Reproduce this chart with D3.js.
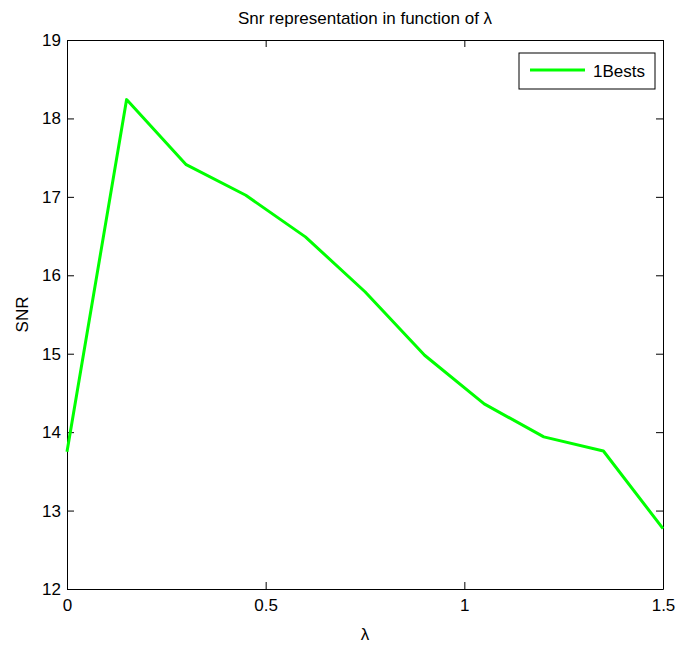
<!DOCTYPE html>
<html>
<head>
<meta charset="utf-8">
<script src="https://cdn.jsdelivr.net/npm/d3@7"></script>
<style>
  body { margin: 0; background: #fff; }
  text { font-family: "Liberation Sans", Arial, sans-serif; }
</style>
</head>
<body>
<div id="chart"></div>
<script>
// data
const lambdas = [0, 0.15, 0.3, 0.45, 0.6, 0.75, 0.9, 1.05, 1.2, 1.35, 1.5];
const snr = [13.75, 18.24, 17.41, 17.02, 16.49, 15.79, 14.98, 14.36, 13.94, 13.76, 12.77];
const xTicks = [0, 0.5, 1, 1.5];
const yTicks = [12, 13, 14, 15, 16, 17, 18, 19];
const seriesName = '1Bests';

const W = 679, H = 653;
const margin = { top: 40, right: 16, bottom: 64, left: 67 };
const w = W - margin.left - margin.right,
  h = H - margin.top - margin.bottom;

let svg = d3.select('#chart').append('svg').attr('width', W).attr('height', H);
let g = svg.append('g').attr('transform', `translate(${margin.left},${margin.top})`);

let x = d3.scaleLinear().domain([0, 1.5]).range([0, w]);
let y = d3.scaleLinear().domain([12, 19]).range([h, 0]);

const fs = 17, tk = 7;

// axes box with inward ticks on all sides
let axB = g.append('g').attr('transform', `translate(0,${h})`)
  .call(d3.axisBottom(x).tickValues(xTicks).tickSizeInner(-tk).tickSizeOuter(0).tickPadding(10).tickFormat(d3.format('')));
let axT = g.append('g')
  .call(d3.axisTop(x).tickValues(xTicks).tickSizeInner(-tk).tickSizeOuter(0).tickFormat(''));
let axL = g.append('g')
  .call(d3.axisLeft(y).tickValues(yTicks).tickSizeInner(-tk).tickSizeOuter(0).tickPadding(6).tickFormat(d3.format('d')));
let axR = g.append('g').attr('transform', `translate(${w},0)`)
  .call(d3.axisRight(y).tickValues(yTicks).tickSizeInner(-tk).tickSizeOuter(0).tickFormat(''));

[axB, axT, axL, axR].forEach(a => {
  a.select('.domain').attr('stroke', '#000');
  a.selectAll('.tick line').attr('stroke', '#000');
  a.selectAll('text').attr('font-size', fs).attr('fill', '#000')
    .style('font-family', '"Liberation Sans", Arial, sans-serif');
});

// the line
let line = d3.line().x((d, i) => x(lambdas[i])).y(d => y(d));
g.append('path')
  .datum(snr)
  .attr('d', line)
  .attr('fill', 'none')
  .attr('stroke', '#00ff00')
  .attr('stroke-width', 3)
  .attr('stroke-linejoin', 'round');

// title and labels
svg.append('text')
  .attr('x', margin.left + w / 2).attr('y', 24)
  .attr('text-anchor', 'middle').attr('font-size', fs)
  .text('Snr representation in function of λ');

svg.append('text')
  .attr('x', margin.left + w / 2).attr('y', 640)
  .attr('text-anchor', 'middle').attr('font-size', fs)
  .text('λ');

svg.append('text')
  .attr('transform', `translate(28,${margin.top + h / 2}) rotate(-90)`)
  .attr('text-anchor', 'middle').attr('font-size', fs)
  .text('SNR');

// legend
let lg = svg.append('g').attr('transform', 'translate(519,53)');
lg.append('rect').attr('width', 136).attr('height', 36)
  .attr('fill', '#fff').attr('stroke', '#000');
lg.append('line').attr('x1', 11).attr('x2', 66).attr('y1', 17).attr('y2', 17)
  .attr('stroke', '#00ff00').attr('stroke-width', 3);
lg.append('text').attr('x', 74).attr('y', 24).attr('font-size', fs).text(seriesName);
</script>
</body>
</html>
